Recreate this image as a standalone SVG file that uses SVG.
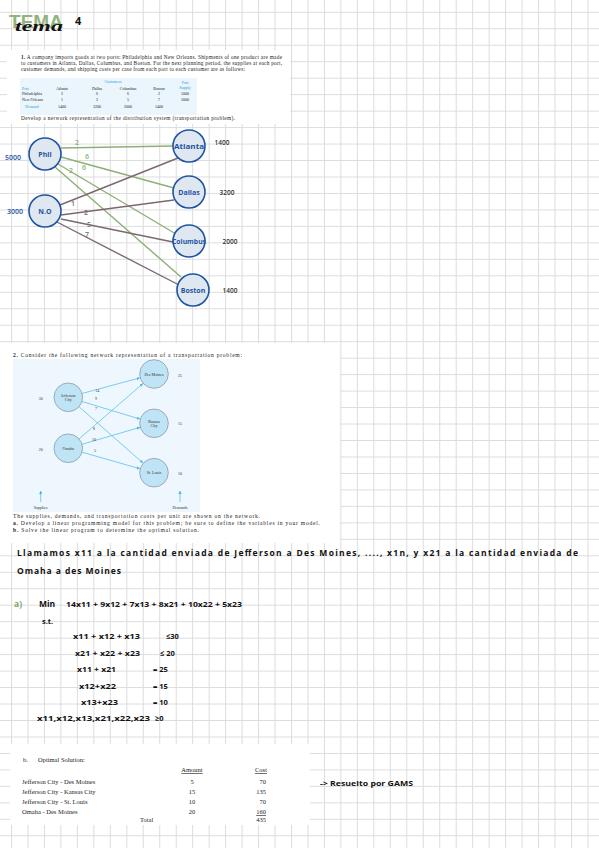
<svg xmlns="http://www.w3.org/2000/svg" width="599" height="848" viewBox="0 0 599 848">
<defs>
<pattern id="grid" x="11" y="11.8" width="16.47" height="16.47" patternUnits="userSpaceOnUse">
<path d="M0 0.5H16.47M0.5 0V16.47" stroke="#dcdcdc" stroke-width="1" fill="none"/>
</pattern>
<marker id="arr" viewBox="0 0 6 6" refX="5.5" refY="3" markerWidth="4" markerHeight="4" orient="auto">
<path d="M0 0L6 3L0 6z" fill="#4cb6e6"/>
</marker>
</defs>
<style>
.serif{font-family:"Liberation Serif","Times New Roman",serif;fill:#222}
.hand{font-family:"Open Sans","DejaVu Sans",sans-serif;font-weight:700;fill:#111}
.n1{fill:#dfe7f1;stroke:#1f54a3;stroke-width:1.6}
.n1t{font-family:"Open Sans","DejaVu Sans",sans-serif;font-weight:700;fill:#1f54a3;font-size:7px;text-anchor:middle}
.eg{stroke:#8db074;stroke-width:1.4;fill:none}
.ep{stroke:#7c6870;stroke-width:1.4;fill:none}
.lg{font-family:"Open Sans",sans-serif;font-weight:600;fill:#8db074;font-size:7px;text-anchor:middle}
.lp{font-family:"Open Sans",sans-serif;font-weight:600;fill:#7c6870;font-size:7px;text-anchor:middle}
.n2{fill:#bfe4f6;stroke:#8d9ba8;stroke-width:0.8}
.e2{stroke:#5cc0ec;stroke-width:0.8;fill:none;marker-end:url(#arr)}
.t2{font-family:"Liberation Serif",serif;fill:#333;font-size:4px;text-anchor:middle}
.tb{font-family:"Liberation Serif",serif;fill:#222;font-size:4px;text-anchor:middle}
.tbb{font-family:"Liberation Serif",serif;fill:#2a9fd8;font-size:4px;text-anchor:middle}
</style>
<rect width="599" height="848" fill="#ffffff"/>
<rect width="599" height="848" fill="url(#grid)"/>

<!-- Title -->
<g id="title">
<text x="9" y="28" font-family="Liberation Sans, sans-serif" font-weight="700" font-size="18" fill="#93b37e" textLength="54" lengthAdjust="spacingAndGlyphs">TEMA</text>
<text x="15" y="31" font-family="Liberation Serif, serif" font-style="italic" font-weight="700" font-size="14" fill="#111" textLength="48" lengthAdjust="spacingAndGlyphs">tema</text>
<text x="75" y="25" font-family="Open Sans, sans-serif" font-weight="700" font-size="11" fill="#111">4</text>
</g>

<!-- Problem 1 statement -->
<g id="problem1-text">
<rect x="7" y="50" width="283" height="74" fill="#ffffff"/>
<text class="serif" x="21" y="58.5" font-size="5.3" textLength="261"><tspan font-weight="700">1.</tspan> A company imports goods at two ports: Philadelphia and New Orleans. Shipments of one product are made</text>
<text class="serif" x="21" y="64.5" font-size="5.3" textLength="261">to customers in Atlanta, Dallas, Columbus, and Boston. For the next planning period, the supplies at each port,</text>
<text class="serif" x="21" y="70.5" font-size="5.3" textLength="224">customer demands, and shipping costs per case from each port to each customer are as follows:</text>
<rect x="20" y="78" width="177" height="37" fill="#eaf5fc"/>
<text class="tbb" x="113" y="82.5">Customers</text>
<text class="tbb" x="185" y="83.5">Port</text>
<text class="tbb" x="185" y="88.5">Supply</text>
<text class="tbb" x="22" y="89.5" style="text-anchor:start">Port</text>
<text class="tb" x="62" y="89.5">Atlanta</text>
<text class="tb" x="97" y="89.5">Dallas</text>
<text class="tb" x="128" y="89.5">Columbus</text>
<text class="tb" x="159" y="89.5">Boston</text>
<text class="tb" x="22" y="95" style="text-anchor:start">Philadelphia</text>
<text class="tb" x="62" y="95">2</text>
<text class="tb" x="97" y="95">6</text>
<text class="tb" x="128" y="95">6</text>
<text class="tb" x="159" y="95">2</text>
<text class="tb" x="185" y="95">5000</text>
<text class="tb" x="22" y="100.5" style="text-anchor:start">New Orleans</text>
<text class="tb" x="62" y="100.5">1</text>
<text class="tb" x="97" y="100.5">2</text>
<text class="tb" x="128" y="100.5">5</text>
<text class="tb" x="159" y="100.5">7</text>
<text class="tb" x="185" y="100.5">3000</text>
<text class="tbb" x="32" y="108">Demand</text>
<text class="tb" x="62" y="108">1400</text>
<text class="tb" x="97" y="108">3200</text>
<text class="tb" x="128" y="108">2000</text>
<text class="tb" x="159" y="108">1400</text>
<text class="serif" x="21" y="120" font-size="5.3" textLength="214">Develop a network representation of the distribution system (transportation problem).</text>
</g>

<!-- Network 1 connectors -->
<g id="connectors1">
<line class="eg" x1="61" y1="148" x2="173" y2="146"/>
<line class="eg" x1="61" y1="157" x2="174" y2="188"/>
<line class="eg" x1="58" y1="164" x2="176" y2="234"/>
<line class="eg" x1="55" y1="167" x2="181" y2="277"/>
<line class="ep" x1="60" y1="205" x2="178" y2="158"/>
<line class="ep" x1="61" y1="215" x2="174" y2="200"/>
<line class="ep" x1="61" y1="219" x2="173" y2="242"/>
<line class="ep" x1="57" y1="222" x2="179" y2="285"/>
<text class="lg" x="77" y="145">2</text>
<text class="lg" x="87" y="159">6</text>
<text class="lg" x="84" y="170">6</text>
<text class="lg" x="71" y="172.5">2</text>
<text class="lp" x="73" y="206">1</text>
<text class="lp" x="86" y="215">2</text>
<text class="lp" x="89" y="226.5">5</text>
<text class="lp" x="87" y="237">7</text>
</g>

<!-- Network 1 nodes -->
<g id="phil"><circle class="n1" cx="45" cy="154" r="16"/><text class="n1t" x="45" y="156.5">Phil</text><text x="13" y="160" font-family="Open Sans, sans-serif" font-weight="600" font-size="7" fill="#1f54a3" text-anchor="middle">5000</text></g>
<g id="no"><circle class="n1" cx="45" cy="211" r="16"/><text class="n1t" x="45" y="213.5">N.O</text><text x="15" y="213.5" font-family="Open Sans, sans-serif" font-weight="600" font-size="7" fill="#1f54a3" text-anchor="middle">3000</text></g>
<g id="atlanta"><circle class="n1" cx="189" cy="146" r="16"/><text class="n1t" x="189" y="148.5" textLength="30" lengthAdjust="spacingAndGlyphs" font-size="6.5">Atlanta</text><text x="222" y="145" font-family="Open Sans, sans-serif" font-weight="600" font-size="6.5" fill="#333" text-anchor="middle">1400</text></g>
<g id="dallas"><circle class="n1" cx="189" cy="192" r="16"/><text class="n1t" x="189" y="194.5" font-size="6.5">Dallas</text><text x="227" y="194.5" font-family="Open Sans, sans-serif" font-weight="600" font-size="6.5" fill="#333" text-anchor="middle">3200</text></g>
<g id="columbus"><circle class="n1" cx="189" cy="241" r="16"/><text class="n1t" x="189" y="243.5" textLength="34" lengthAdjust="spacingAndGlyphs" font-size="6.5">Columbus</text><text x="230" y="243.5" font-family="Open Sans, sans-serif" font-weight="600" font-size="6.5" fill="#333" text-anchor="middle">2000</text></g>
<g id="boston"><circle class="n1" cx="193" cy="290" r="16"/><text class="n1t" x="193" y="292.5" font-size="6.5">Boston</text><text x="230" y="293" font-family="Open Sans, sans-serif" font-weight="600" font-size="6.5" fill="#333" text-anchor="middle">1400</text></g>

<!-- Problem 2 -->
<g id="problem2-text">
<rect x="0" y="343" width="340" height="200" fill="#ffffff"/>
<text class="serif" x="13" y="357" font-size="5.6" textLength="229"><tspan font-weight="700">2.</tspan> Consider the following network representation of a transportation problem:</text>
<rect x="13" y="359" width="187" height="153" fill="#eef7fd"/>
<text class="serif" x="13" y="518" font-size="5.6" textLength="247">The supplies, demands, and transportation costs per unit are shown on the network.</text>
<text class="serif" x="13" y="525" font-size="5.6" textLength="307"><tspan font-weight="700">a.</tspan> Develop a linear programming model for this problem; be sure to define the variables in your model.</text>
<text class="serif" x="13" y="532" font-size="5.6" textLength="186"><tspan font-weight="700">b.</tspan> Solve the linear program to determine the optimal solution.</text>
</g>

<g id="connectors2">
<line class="e2" x1="82.1" y1="393.5" x2="139.7" y2="377.9"/>
<line class="e2" x1="82" y1="401.5" x2="139.8" y2="419"/>
<line class="e2" x1="79.1" y1="406.8" x2="142.9" y2="462.9"/>
<line class="e2" x1="79.1" y1="438.9" x2="142.8" y2="383.7"/>
<line class="e2" x1="82" y1="444.3" x2="139.8" y2="427.4"/>
<line class="e2" x1="82.1" y1="452.2" x2="139.8" y2="468.7"/>
<line class="e2" x1="40.7" y1="502" x2="40.7" y2="491"/>
<line class="e2" x1="180" y1="502" x2="180" y2="491"/>
<text class="t2" x="97.3" y="391.5">14</text>
<text class="t2" x="96" y="400">9</text>
<text class="t2" x="96" y="409.5">7</text>
<text class="t2" x="94" y="429.5">8</text>
<text class="t2" x="94" y="440.5">10</text>
<text class="t2" x="95" y="451.5">5</text>
<text class="t2" x="40.7" y="508.5">Supplies</text>
<text class="t2" x="180" y="508.5">Demands</text>
</g>

<g id="jefferson"><circle class="n2" cx="68.3" cy="397.3" r="14.3"/><text class="t2" x="68.3" y="396.5" font-size="3.6">Jefferson</text><text class="t2" x="68.3" y="401" font-size="3.6">City</text><text class="t2" x="40.7" y="399.5">30</text></g>
<g id="omaha"><circle class="n2" cx="68.3" cy="448.3" r="14.3"/><text class="t2" x="68.3" y="449.8" font-size="3.6">Omaha</text><text class="t2" x="40.7" y="450.5">20</text></g>
<g id="desmoines"><circle class="n2" cx="154" cy="374" r="14.3"/><text class="t2" x="154" y="375.5" font-size="3.6">Des Moines</text><text class="t2" x="180" y="376.5">25</text></g>
<g id="kansascity"><circle class="n2" cx="154" cy="423.3" r="14.3"/><text class="t2" x="154" y="422.5" font-size="3.6">Kansas</text><text class="t2" x="154" y="427" font-size="3.6">City</text><text class="t2" x="180" y="425">15</text></g>
<g id="stlouis"><circle class="n2" cx="154" cy="472.7" r="14.3"/><text class="t2" x="154" y="474.2" font-size="3.6">St. Louis</text><text class="t2" x="180" y="474.5">10</text></g>

<!-- Handwritten model -->
<g id="handwriting">
<text class="hand" x="17" y="556" font-size="8.5" textLength="561">Llamamos  x11  a  la  cantidad  enviada  de  Jefferson  a  Des  Moines, ...., x1n,  y  x21  a  la  cantidad  enviada  de</text>
<text class="hand" x="17" y="574" font-size="8.5" textLength="104">Omaha  a  des  Moines</text>
<text class="hand" x="14" y="607" font-size="8.5" style="fill:#7fa86a">a)</text>
<text class="hand" x="39" y="607" font-size="8.5">Min</text>
<text class="hand" x="66" y="607" font-size="7.5" textLength="176" lengthAdjust="spacingAndGlyphs">14x11 + 9x12 + 7x13 + 8x21 + 10x22 + 5x23</text>
<text class="hand" x="42" y="623.5" font-size="7.5">s.t.</text>
<text class="hand" x="73" y="639" font-size="7" textLength="67" lengthAdjust="spacingAndGlyphs">x11 + x12 + x13</text>
<text class="hand" x="166" y="639" font-size="7.5">≤30</text>
<text class="hand" x="75" y="655.5" font-size="7" textLength="65" lengthAdjust="spacingAndGlyphs">x21 + x22 + x23</text>
<text class="hand" x="160" y="655.5" font-size="7.5">≤ 20</text>
<text class="hand" x="77" y="672" font-size="7" textLength="39" lengthAdjust="spacingAndGlyphs">x11 + x21</text>
<text class="hand" x="153" y="672" font-size="7.5">= 25</text>
<text class="hand" x="79" y="688.5" font-size="7" textLength="37" lengthAdjust="spacingAndGlyphs">x12+x22</text>
<text class="hand" x="153" y="688.5" font-size="7.5">= 15</text>
<text class="hand" x="81" y="705" font-size="7" textLength="37" lengthAdjust="spacingAndGlyphs">x13+x23</text>
<text class="hand" x="153" y="705" font-size="7.5">= 10</text>
<text class="hand" x="37" y="721" font-size="7" textLength="113" lengthAdjust="spacingAndGlyphs">x11,x12,x13,x21,x22,x23</text>
<text class="hand" x="155" y="721" font-size="7.5">≥0</text>
</g>

<!-- Optimal solution table -->
<g id="solution">
<rect x="10" y="744" width="300" height="81" fill="#ffffff"/>
<text class="serif" x="23" y="762" font-size="6.5">b.</text>
<text class="serif" x="38" y="762" font-size="6.5">Optimal Solution:</text>
<text class="serif" x="192" y="772" font-size="6.5" text-anchor="middle" text-decoration="underline">Amount</text>
<text class="serif" x="261" y="772" font-size="6.5" text-anchor="middle" text-decoration="underline">Cost</text>
<text class="serif" x="22" y="784" font-size="6.5">Jefferson City - Des Moines</text>
<text class="serif" x="22" y="794" font-size="6.5">Jefferson City - Kansas City</text>
<text class="serif" x="22" y="804" font-size="6.5">Jefferson City - St. Louis</text>
<text class="serif" x="22" y="814" font-size="6.5">Omaha - Des Moines</text>
<text class="serif" x="192" y="784" font-size="6.5" text-anchor="middle">5</text>
<text class="serif" x="192" y="794" font-size="6.5" text-anchor="middle">15</text>
<text class="serif" x="192" y="804" font-size="6.5" text-anchor="middle">10</text>
<text class="serif" x="192" y="814" font-size="6.5" text-anchor="middle">20</text>
<text class="serif" x="266" y="784" font-size="6.5" text-anchor="end">70</text>
<text class="serif" x="266" y="794" font-size="6.5" text-anchor="end">135</text>
<text class="serif" x="266" y="804" font-size="6.5" text-anchor="end">70</text>
<text class="serif" x="266" y="814" font-size="6.5" text-anchor="end" text-decoration="underline">160</text>
<text class="serif" x="140" y="822" font-size="6.5">Total</text>
<text class="serif" x="266" y="822" font-size="6.5" text-anchor="end">435</text>
</g>
<g id="note">
<text class="hand" x="320" y="786" font-size="7" textLength="93" lengthAdjust="spacingAndGlyphs">-&gt; Resuelto por GAMS</text>
</g>
</svg>
